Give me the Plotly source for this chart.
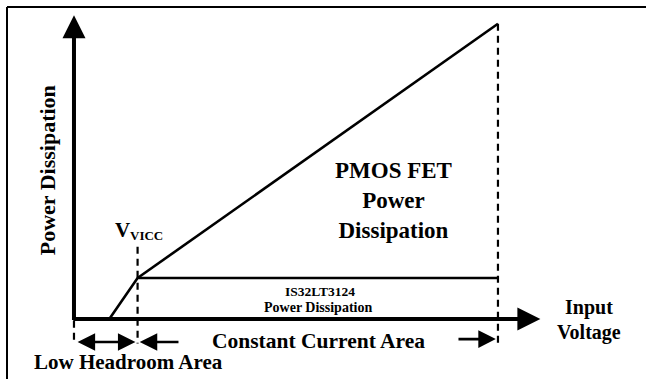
import plotly.graph_objects as go

# Input-voltage breakpoints (schematic units)
vin_driver = [1.0, 1.8, 12.0]      # dropout start, V_VICC, maximum input
p_driver = [0.0, 1.0, 1.0]         # IS32LT3124 dissipation
vin_pmos = [1.8, 12.0]
p_pmos = [1.0, 7.2]                # PMOS FET dissipation

V_VICC = 1.8
V_MAX = 12.0
P_MAX = 7.2

FONT = "Liberation Serif, Times New Roman, serif"
BLACK = "#000000"

fig = go.Figure()

# Driver dissipation curve and PMOS dissipation line
fig.add_trace(go.Scatter(x=vin_driver, y=p_driver, mode="lines",
                         line=dict(color=BLACK, width=2.6), hoverinfo="skip"))
fig.add_trace(go.Scatter(x=vin_pmos, y=p_pmos, mode="lines",
                         line=dict(color=BLACK, width=2.6), hoverinfo="skip"))

# Dashed guides marking region boundaries
dash = dict(color=BLACK, width=2.2, dash="7px,5px")
fig.add_trace(go.Scatter(x=[0, 0], y=[-0.04, -0.52], mode="lines", line=dash, hoverinfo="skip"))
fig.add_trace(go.Scatter(x=[V_VICC, V_VICC], y=[1.76, -0.6], mode="lines", line=dash, hoverinfo="skip"))
fig.add_trace(go.Scatter(x=[V_MAX, V_MAX], y=[P_MAX, -0.6], mode="lines", line=dash, hoverinfo="skip"))

ann = []

def arrow(x, y, ax, ay, width, size, both=False):
    d = dict(x=x, y=y, ax=ax, ay=ay, xref="x", yref="y", axref="x", ayref="y",
             showarrow=True, arrowhead=2, arrowsize=size, arrowwidth=width,
             arrowcolor=BLACK, text="")
    if both:
        d.update(arrowside="end+start", startarrowhead=2, startarrowsize=size)
    ann.append(d)

# Axes
arrow(0, 7.41, 0, -0.06, 4, 1.15)
arrow(13.2, 0, -0.06, 0, 4, 1.15)

# Region dimension arrows
arrow(1.74, -0.56, 0.06, -0.56, 2.6, 1.35, both=True)
arrow(1.86, -0.56, 3.0, -0.56, 2.6, 1.35)
arrow(11.94, -0.49, 10.84, -0.49, 2.6, 1.35)

def label(x, y, text, size, **kw):
    d = dict(x=x, y=y, xref="x", yref="y", text=text, showarrow=False,
             xanchor="center", yanchor="middle",
             font=dict(family=FONT, size=size, color=BLACK, weight="bold"))
    d.update(kw)
    ann.append(d)

label(-0.76, 3.63, "Power Dissipation", 22, textangle=-90)
label(1.36, 2.17, "V", 21)
label(2.04, 2.04, "VICC", 13)
label(9.03, 2.9, "PMOS FET<br>Power<br>Dissipation", 23)
label(6.97, 0.68, "IS32LT3124", 13.5)
label(6.91, 0.29, "Power Dissipation", 14)
label(6.91, -0.54, "Constant Current Area", 21.5)
label(1.55, -1.05, "Low Headroom Area", 21)
label(14.57, 0.29, "Input", 20)
label(14.57, -0.34, "Voltage", 20)

fig.update_layout(
    width=646, height=379,
    margin=dict(l=0, r=0, t=0, b=0),
    paper_bgcolor="white", plot_bgcolor="white",
    showlegend=False,
    xaxis=dict(range=[-2.094, 16.19], visible=False, fixedrange=True),
    yaxis=dict(range=[-1.463, 7.78], visible=False, fixedrange=True),
    annotations=ann,
    shapes=[
        dict(type="line", xref="paper", yref="paper", x0=7 / 646, x1=7 / 646,
             y0=0, y1=1 - 7 / 379, line=dict(color=BLACK, width=2)),
        dict(type="line", xref="paper", yref="paper", x0=7 / 646, x1=1,
             y0=1 - 7 / 379, y1=1 - 7 / 379, line=dict(color=BLACK, width=2)),
    ],
)

fig.write_html("out.html", config={"displayModeBar": False})
